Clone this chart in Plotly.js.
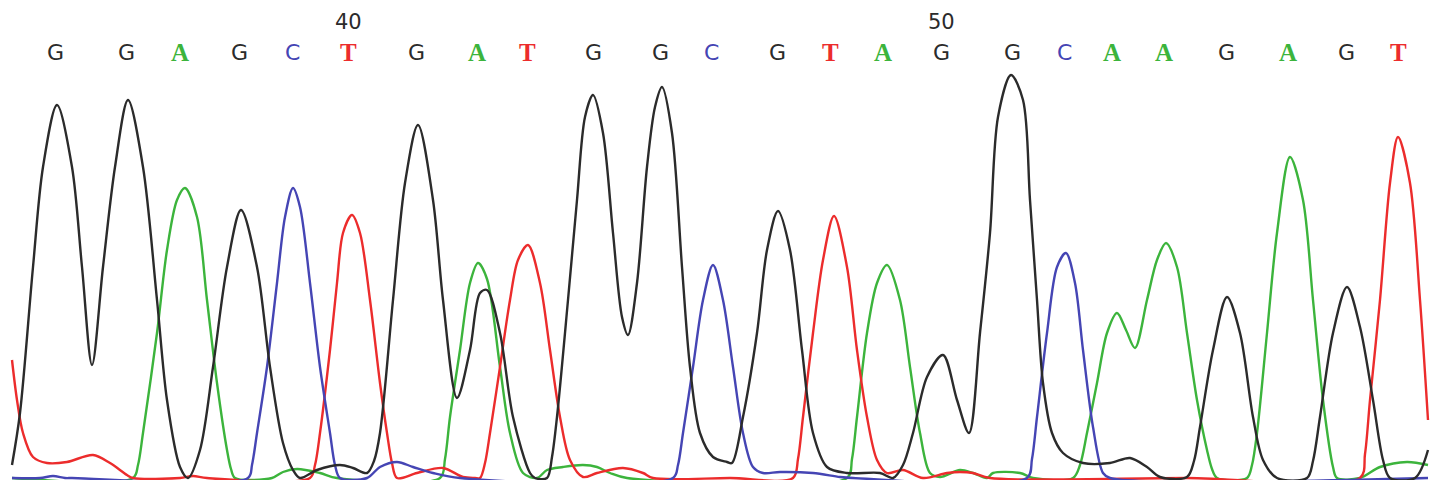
<!DOCTYPE html>
<html>
<head>
<meta charset="utf-8">
<script src="https://cdn.plot.ly/plotly-3.0.1.min.js"></script>
<style>
  html, body { margin: 0; padding: 0; background: #fff; }
  #chart { width: 1441px; height: 493px; }
</style>
</head>
<body>
<div id="chart"></div>
<script>
// base calls and where they sit on the scan axis
const baseCalls = ["G","G","A","G","C","T","G","A","T","G","G","C","G","T","A","G","G","C","A","A","G","A","G","T"];
const basePos = [55,126,180,239,292,348,416,477,527,593,660,711,777,830,883,941,1012,1064,1112,1164,1226,1288,1346,1398];
const firstBaseNumber = 35;

// G channel (black)
const gScan = [12,20,33,43,57,72,82,92, 103,115,128,143,157,167,180,188, 200,213,227,241,257,270,283,293,300,
  317,340,353,367,374, 380,393,405,418,433,443,457, 470,480,487,500,513,530,535,
  547,552,557,568,577,585,593,603,613,622,628, 637,647,655,662,672,682,690,700,713,727,732,
  743,757,767,778,790,802,813,827,847,880,893,903, 913,927,943,957,969,
  980,990,998,1011,1023,1030,1037,1043,1052,1063,1083,1110,1130,1147,1160,1187,1194,
  1200,1213,1227,1240,1253,1263,1277,1307,1313, 1320,1333,1347,1360,1373,1383,1390,1415,1428];
const gSignal = [14,66,212,312,374,312,212,114, 212,312,379,312,179,79,12,1, 29,112,212,269,212,112,36,9,1,
  9,14,11,6,18, 46,179,296,354,279,179,81, 129,186,189,146,62,6,1,
  1,22,62,179,279,362,384,346,246,162,144, 196,312,372,392,346,212,112,46,22,17,16,
  62,146,229,268,229,129,46,12,6,6,1,14, 46,102,124,79,46,
  146,246,362,404,379,279,179,96,46,26,16,16,21,12,2,2,18,
  52,129,182,146,62,19,1,1,18, 62,146,192,152,79,19,1,1,29];

// A channel (green)
const aScan = [12,133,138, 143,157,167,177,185,197,207,217,227,231,235, 272,283,297,320,337,
  440,445,450,460,470,478,487,500,510,523,537, 547,563,583,597,610,627,
  847,852,857,867,877,887,900,910,920,930,940,960,973,987, 993,1020,1033,
  1073,1080,1087,1097,1107,1117,1126,1135,1147,1157,1166,1177,1187,1197,1207,1212,1217,
  1247,1252,1257,1267,1277,1290,1303,1313,1323,1333,1337, 1360,1380,1407,1428];
const aSignal = [1,1,14, 46,146,229,279,291,262,179,96,29,10,1, 1,7,10,6,1,
  1,20,62,129,196,216,200,112,46,6,1, 9,12,14,12,6,1,
  1,20,62,146,196,214,179,112,46,6,2,9,6,1, 6,6,1,
  1,14,46,96,146,166,149,131,179,219,236,212,146,79,29,10,1,
  1,14,46,146,246,322,279,179,79,12,1, 1,12,17,14];

// T channel (red)
const tScan = [12,17,23,33,47,67,93,110,127,133, 180,193,207,
  310,315,320,330,337,343,352,360,370,380,387,392,397, 417,443,463,475,
  480,485,490,500,510,518,528,540,550,560,570,583,597,623,643,653, 730,793,798,
  803,813,823,834,847,857,867,877,887,903,923,947,960,973,990, 1187,1360,1365,
  1370,1380,1390,1398,1410,1420,1428];
const tSignal = [119,79,46,22,16,17,24,16,4,1, 1,3,1,
  1,14,46,129,196,246,264,246,179,96,46,16,1, 6,11,2,1,
  1,16,46,112,179,219,234,196,129,62,19,2,6,11,6,1, 1,1,20,
  62,146,219,263,212,129,62,19,6,9,1,6,7,6,1, 1,1,25,
  79,179,296,342,296,179,59];

// C channel (blue)
const cScan = [12,40,53,65,72, 248,252,257,267,277,285,293,300,310,320,330,335,340,
  367,380,397,413,433,460, 673,678,683,693,703,713,723,733,743,753,763,780,813,840,853,
  1027,1032,1037,1047,1057,1066,1075,1083,1093,1103,1110,1428];
const cSignal = [1,1,3,1,1, 1,14,46,112,196,262,291,272,196,112,46,14,1,
  1,12,17,12,6,1, 1,14,46,112,179,214,179,112,46,12,6,7,6,2,1,
  1,20,62,146,212,226,196,129,52,6,1,1];

const baseColors = { G: "#2b2b2b", A: "#3cb43c", C: "#4545b4", T: "#ec2c2c" };

function channel(x, y, color) {
    return {
        x: x, y: y,
        type: "scatter",
        mode: "lines",
        line: { color: color, width: 2.4, shape: "spline", smoothing: 0.9 },
        hoverinfo: "skip"
    };
}

const traces = [
    channel(aScan, aSignal, baseColors.A),
    channel(tScan, tSignal, baseColors.T),
    channel(cScan, cSignal, baseColors.C),
    channel(gScan, gSignal, baseColors.G)
];

const annotations = [];
baseCalls.forEach((b, i) => {
    const serif = (b === "A" || b === "T");
    annotations.push({
        x: basePos[i], xref: "x",
        y: 1 - 52 / 480, yref: "paper",
        text: b, showarrow: false,
        xanchor: "center", yanchor: "middle",
        font: {
            family: serif ? "Liberation Serif, serif" : "DejaVu Sans, sans-serif",
            size: serif ? 25 : 22,
            color: baseColors[b],
            weight: serif ? "bold" : "normal"
        }
    });
    const num = firstBaseNumber + i;
    if (num % 10 === 0) {
        annotations.push({
            x: basePos[i], xref: "x",
            y: 1 - 22 / 480, yref: "paper",
            text: String(num), showarrow: false,
            xanchor: "center", yanchor: "middle",
            font: { family: "DejaVu Sans, sans-serif", size: 21, color: "#2b2b2b" }
        });
    }
});

Plotly.newPlot("chart", traces, {
    width: 1441, height: 493,
    margin: { l: 0, r: 0, t: 0, b: 13, pad: 0 },
    paper_bgcolor: "#ffffff",
    plot_bgcolor: "#ffffff",
    showlegend: false,
    hovermode: false,
    xaxis: { range: [0, 1441], visible: false, fixedrange: true },
    yaxis: { range: [-1, 479], visible: false, fixedrange: true },
    annotations: annotations
}, { displayModeBar: false, staticPlot: true });
</script>
</body>
</html>
